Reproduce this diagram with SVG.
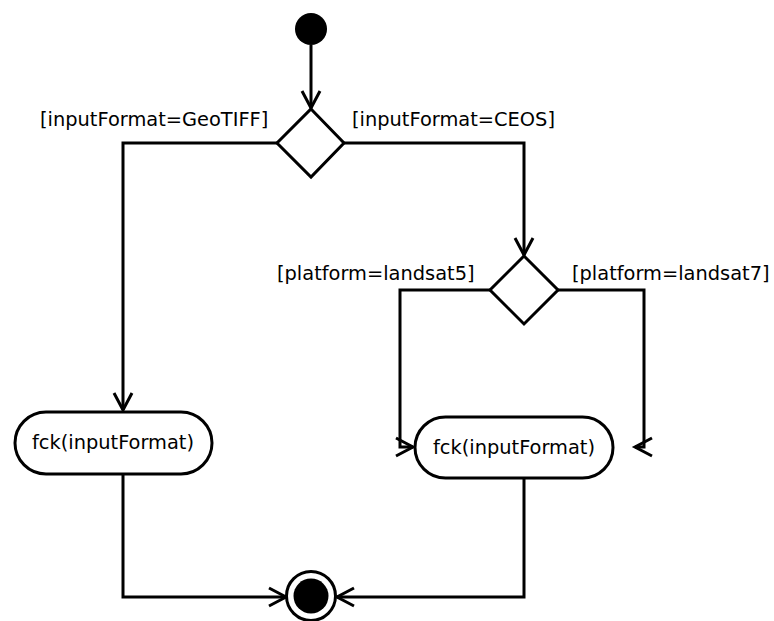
<svg xmlns="http://www.w3.org/2000/svg" width="774" height="621" viewBox="0 0 774 621">
<defs>
<marker id="arr" markerUnits="userSpaceOnUse" markerWidth="30" markerHeight="30" viewBox="-20 -15 30 30" refX="0" refY="0" orient="auto" overflow="visible">
<path d="M-17,-9 L0,0 L-17,9" fill="none" stroke="#000" stroke-width="3"/>
</marker>
</defs>
<style>
.e{fill:none;stroke:#000;stroke-width:3;marker-end:url(#arr)}
.n{fill:#fff;stroke:#000;stroke-width:3}
.t{font-family:"DejaVu Sans",sans-serif;font-size:19.4px;fill:#000}
</style>
<g id="connectors">
<path class="e" d="M311,45 V108"/>
<path class="e" d="M277,143 H123 V410"/>
<path class="e" d="M344,143 H524 V255"/>
<path class="e" d="M490,290 H400 V447 H413"/>
<path class="e" d="M558,290 H644 V447 H635"/>
<path class="e" d="M123,474 V597 H286"/>
<path class="e" d="M524,478 V597 H337"/>
</g>
<g id="start"><circle cx="311" cy="29" r="16" fill="#000"/></g>
<g id="decision1"><path class="n" d="M311,109 L344,143 L311,177 L277,143 Z"/></g>
<g id="decision2"><path class="n" d="M524,256 L558,290 L524,324 L490,290 Z"/></g>
<g id="action1"><rect class="n" x="15" y="412" width="197" height="62" rx="31"/><text class="t" x="113" y="449" text-anchor="middle">fck(inputFormat)</text></g>
<g id="action2"><rect class="n" x="415" y="417" width="198" height="61" rx="30.5"/><text class="t" x="514" y="454" text-anchor="middle">fck(inputFormat)</text></g>
<g id="end"><circle class="n" cx="311" cy="596" r="24.5"/><circle cx="311" cy="596" r="17.5" fill="#000"/></g>
<g id="labels">
<text class="t" x="40" y="126">[inputFormat=GeoTIFF]</text>
<text class="t" x="352" y="126">[inputFormat=CEOS]</text>
<text class="t" x="277" y="280">[platform=landsat5]</text>
<text class="t" x="572" y="280">[platform=landsat7]</text>
</g>
</svg>
